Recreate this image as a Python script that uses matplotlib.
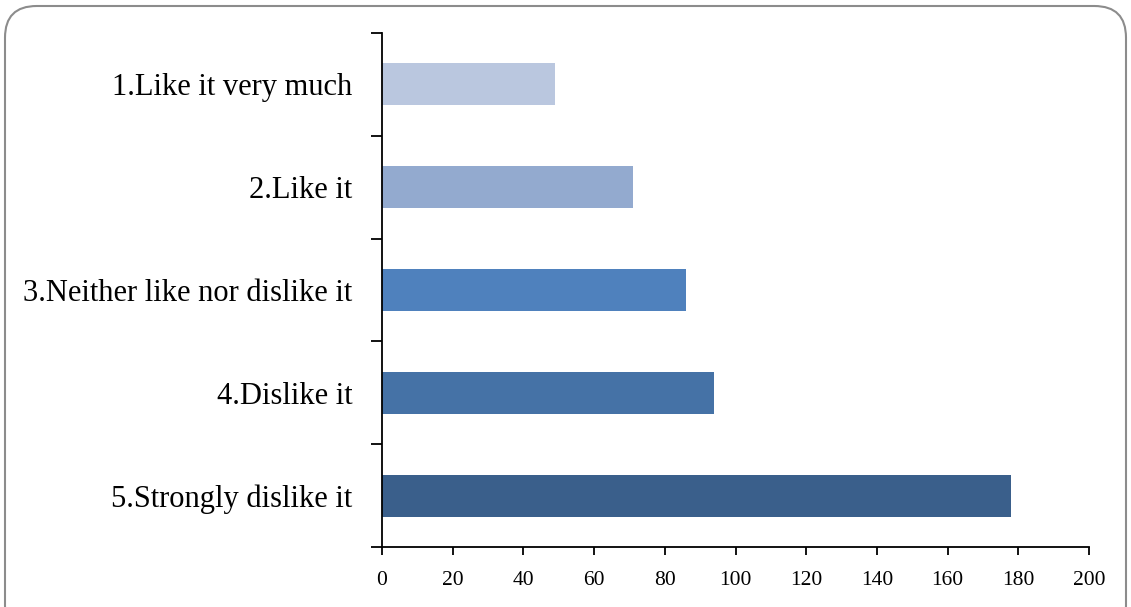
import matplotlib.pyplot as plt
import numpy as np
from matplotlib.patches import FancyBboxPatch

# Datos
categorias = ['1.Like it very much', '2.Like it', '3.Neither like nor dislike it',
              '4.Dislike it', '5.Strongly dislike it']
valores = [49, 71, 86, 94, 178]
colores = ['#BAC7DF', '#93AACF', '#4F81BD', '#4572A6', '#3A5F8B']
xticks = [0, 20, 40, 60, 80, 100, 120, 140, 160, 180, 200]

plt.rcParams['font.family'] = ['Liberation Serif', 'DejaVu Serif']

fig = plt.figure(figsize=(11.31, 6.07), dpi=100)
ax = fig.add_axes([382/1131, 1-547/607, (1089-382)/1131, (547-33)/607])

# Marco redondeado
marco = FancyBboxPatch((5/1131, -0.05), 1-10/1131, 1+0.05-6/607,
                       boxstyle='round,pad=0,rounding_size=0.028',
                       transform=fig.transFigure, fill=False,
                       edgecolor='#8C8C8C', linewidth=1.5, mutation_aspect=1131/607)
fig.patches.append(marco)

y = np.arange(len(categorias))
ax.barh(y, valores, height=0.41, color=colores)
ax.set_ylim(len(categorias)-0.5, -0.5)
ax.set_xlim(0, 200)

ax.set_yticks(y)
ax.set_yticklabels(categorias, fontsize=22)
ax.tick_params(axis='y', which='major', length=0, pad=21.5)
ax.set_yticks(np.arange(-0.5, len(categorias)), minor=True)
ax.tick_params(axis='y', which='minor', length=8, width=1.3, direction='out')

ax.set_xticks(xticks)
ax.set_xticklabels([str(t) for t in xticks], fontsize=15.5)
ax.tick_params(axis='x', length=6, width=1.3, direction='out', pad=11)

for lado in ['top', 'right']:
    ax.spines[lado].set_visible(False)
for lado in ['left', 'bottom']:
    ax.spines[lado].set_linewidth(1.3)

plt.savefig('out.png', dpi=100)
